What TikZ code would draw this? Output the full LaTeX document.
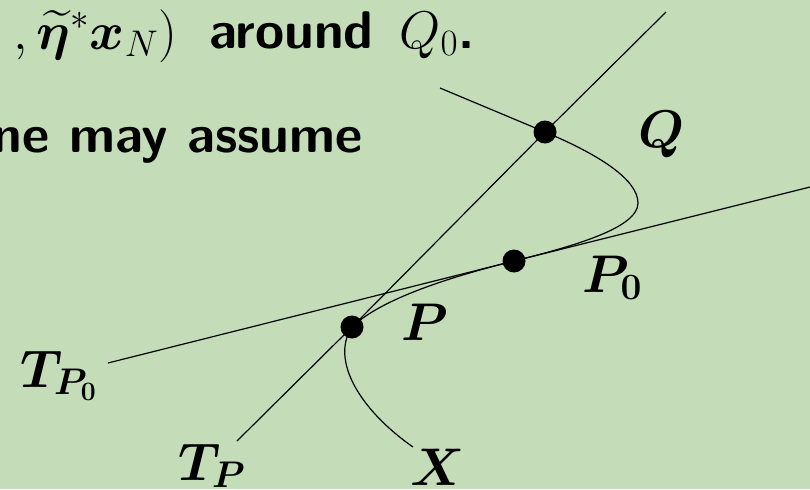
\RequirePackage{fix-cm}
\documentclass[tikz,border=0pt]{standalone}
\usepackage{amsmath}
\usepackage{bm}
\definecolor{bg}{RGB}{196,220,184}
\tikzset{
  dot/.style={circle,fill=black,inner sep=0pt,minimum size=11.5pt},
  lbl/.style={inner sep=0pt,anchor=base west,font=\fontsize{26.5}{32}\selectfont},
  txt/.style={inner sep=0pt,anchor=base west,font=\fontsize{26.5}{32}\selectfont\sffamily\bfseries},
  thin line/.style={line width=0.6pt,black}
}
\begin{document}
\begin{tikzpicture}[x=0.5pt,y=-0.5pt]
\fill[bg] (0,0) rectangle (810,489);
\useasboundingbox (0,0) rectangle (810,489);
\clip (0,0) rectangle (810,489);
% text
\node[txt] (m1) at (13,49) {$,\bm{\widetilde{\eta}}^*\bm{x}_N)$};
\node[txt] (w1) at (209,48) {around};
\node[txt] (m2) at (399,48) {$Q_0$.};
\node[txt,anchor=base east] (line2) at (363,152) {ne may assume};
% points
\node[dot] (Q) at (545,132) {};
\node[dot] (P0) at (514,261) {};
\node[dot] (P) at (352,327) {};
% line ends
\coordinate (tpa) at (237,441);
\coordinate (tpb) at (666,12);
\coordinate (tpoa) at (108,363);
\coordinate (tpob) at (810,187);
\coordinate (xa) at (440,88);
\coordinate (turn) at (638,203);
\coordinate (xb) at (413,447);
% tangent lines
\draw[thin line] (tpa) -- (P.center) -- (Q.center) -- (tpb);
\draw[thin line] (tpoa) -- (P0.center) -- (tpob);
% curve X
\draw[thin line] (xa) -- (Q.center)
  .. controls (600,155) and (638,180) .. (turn)
  .. controls (638,228) and (574,246) .. (P0.center)
  .. controls (454,276) and (382,298) .. (P.center)
  .. controls (330,360) and (360,410) .. (xb);
% labels
\node[lbl] (lQ) at (638,147) {$\bm{Q}$};
\node[lbl] (lP0) at (582,292) {$\bm{P_0}$};
\node[lbl] (lP) at (401,340) {$\bm{P}$};
\node[lbl] (lTP0) at (20,387) {$\bm{T_{P_0}}$};
\node[lbl] (lTP) at (178,480) {$\bm{T_P}$};
\node[lbl] (lX) at (410,485) {$\bm{X}$};
\end{tikzpicture}
\end{document}
